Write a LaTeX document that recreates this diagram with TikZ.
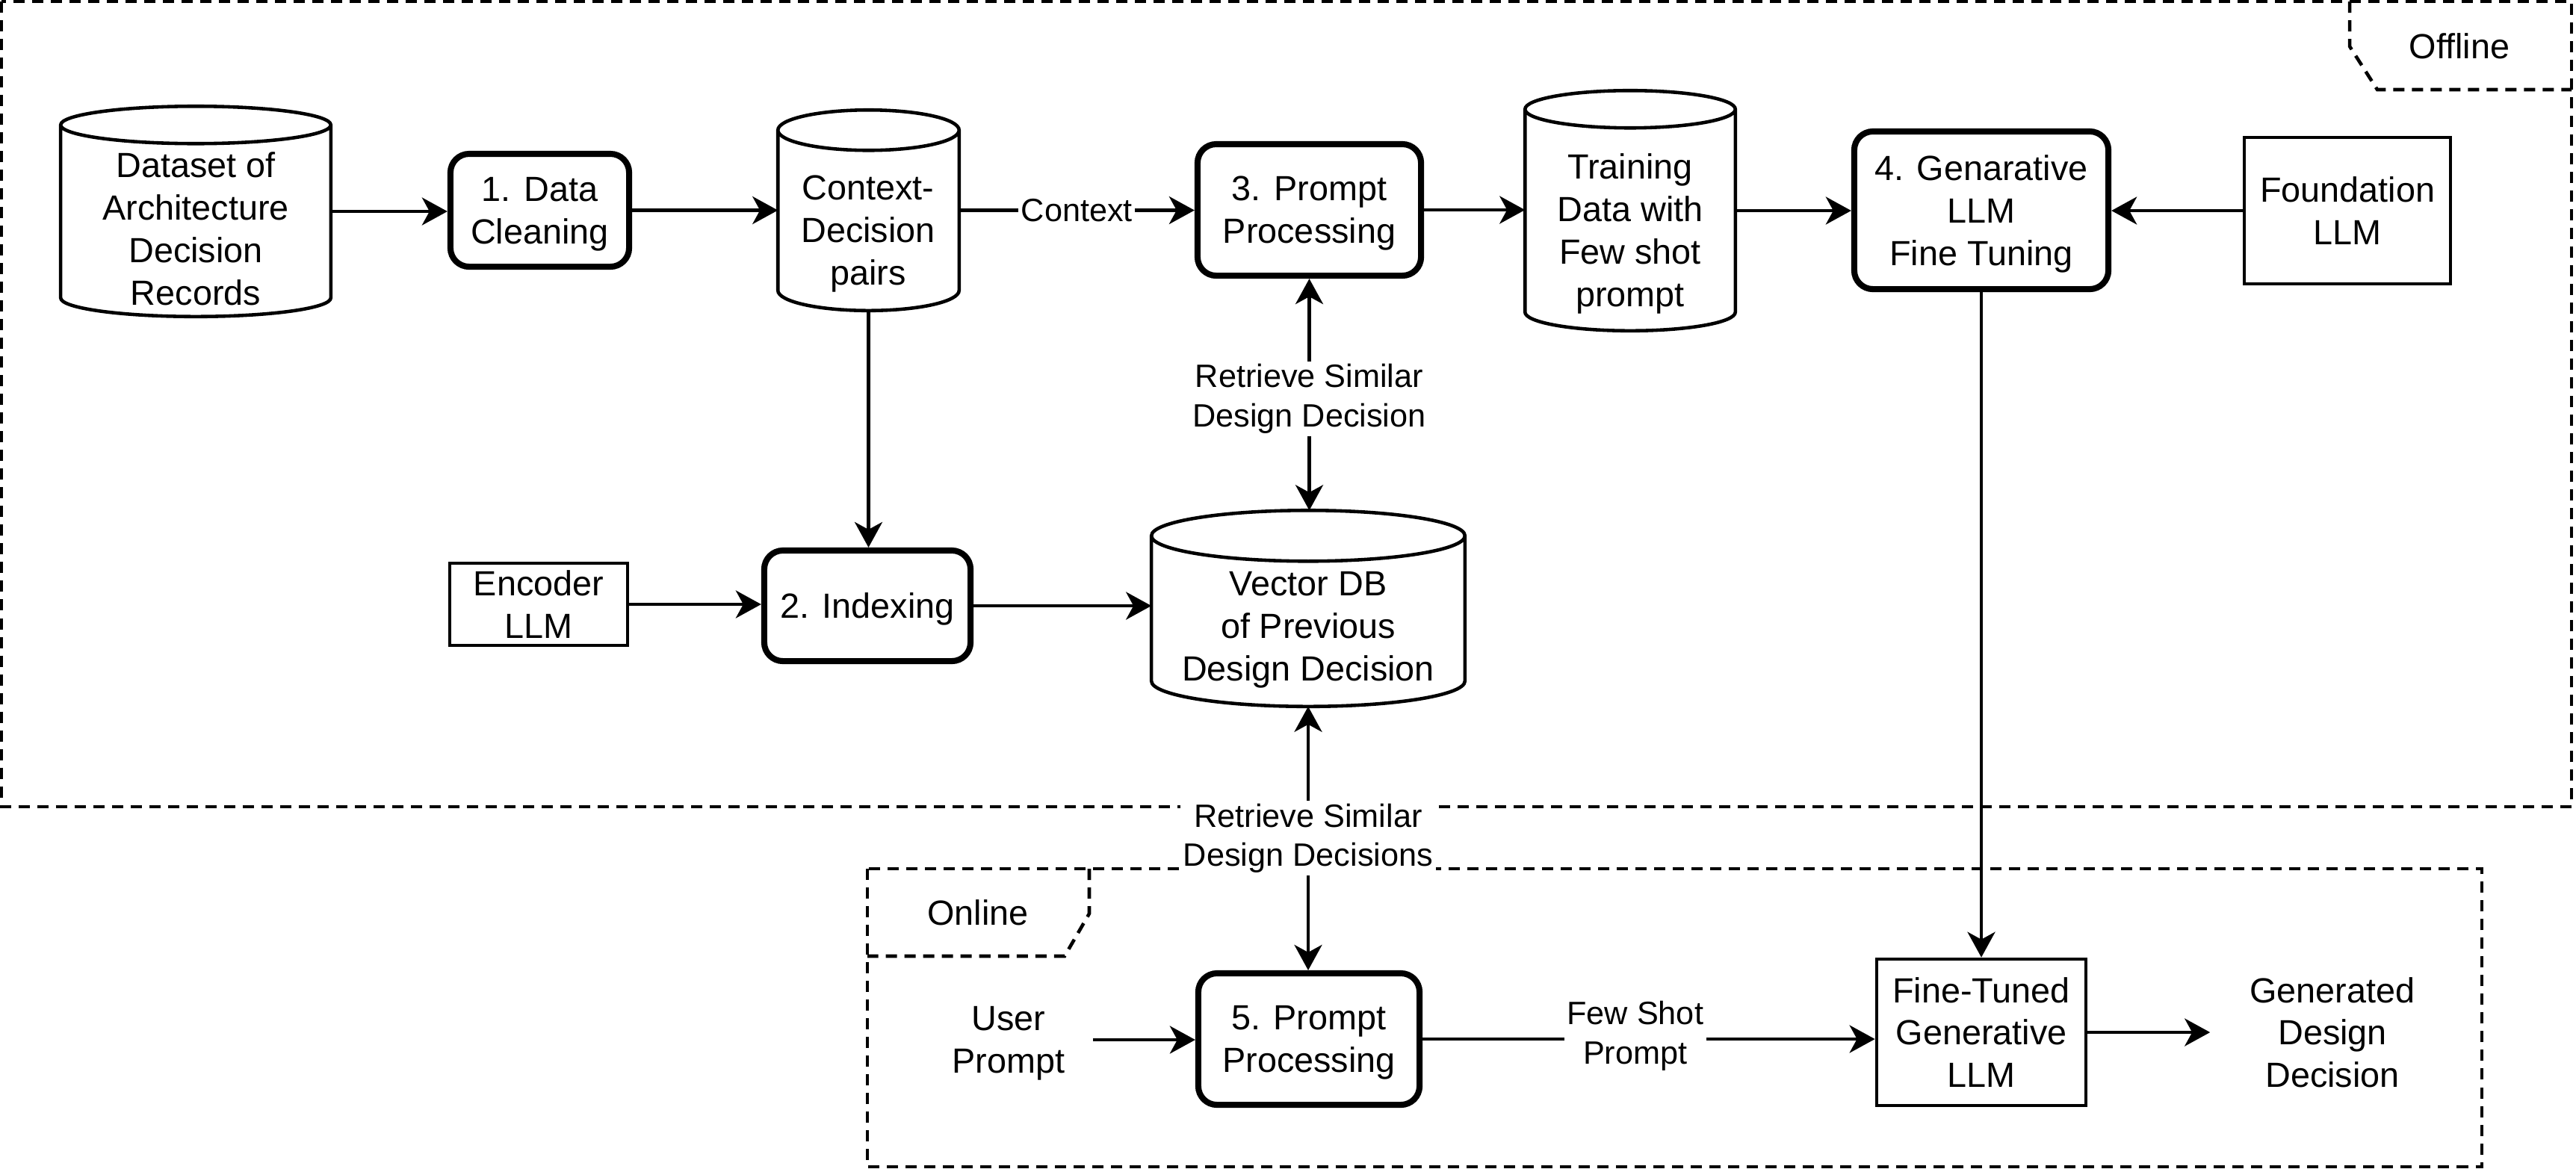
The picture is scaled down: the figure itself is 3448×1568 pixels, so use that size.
\documentclass[tikz,border=0pt]{standalone}
\usepackage{fontspec}
\setmainfont{Liberation Sans}
\usetikzlibrary{arrows.meta,calc}
\newcommand\myNodeFont{\fontsize{13.3pt}{16.2pt}\selectfont}
\newcommand\myLblFont{\fontsize{12.3pt}{15pt}\selectfont}
\tikzset{
  proc/.style={draw, line width=2.3pt, rounded corners=0.25cm, align=center, font=\myNodeFont, inner sep=0pt, fill=white, text depth=0pt},
  plainbox/.style={draw, line width=1.3pt, align=center, font=\myNodeFont, inner sep=0pt, fill=white, text depth=0pt},
  cylbox/.style={inner sep=0pt},
  cylline/.style={line width=1.3pt},
  txt/.style={align=center, font=\myNodeFont, inner sep=0pt, text depth=0pt},
  lbl/.style={fill=white, align=center, font=\myLblFont, inner sep=1pt},
  conn/.style={line width=1.2pt, -{Stealth[length=0.34cm,width=0.37cm,inset=0.1cm]}},
  biconn/.style={line width=1.2pt, {Stealth[length=0.34cm,width=0.37cm,inset=0.1cm]}-{Stealth[length=0.34cm,width=0.37cm,inset=0.1cm]}},
  frame/.style={line width=1.3pt, dash pattern=on 0.15cm off 0.1cm},
}
\newcommand\drawcyl[2]{%
  \draw[cylline] let \p1=(#1.north west), \p2=(#1.south east), \n1={(\x2-\x1)/2} in
    ({(\x1+\x2)/2},{\y1-#2}) ellipse [x radius=\n1, y radius=#2]
    (\x1,{\y1-#2}) -- (\x1,{\y2+#2}) arc [start angle=180, end angle=360, x radius=\n1, y radius=#2] -- (\x2,{\y1-#2});
}
\begin{document}
\begin{tikzpicture}[x=0.01cm,y=-0.01cm]
\useasboundingbox (0,0) rectangle (3448,1568);
\fill[white] (0,0) rectangle (3448,1568);

% frames
\draw[frame] (2,2) rectangle (3442,1080);
\draw[frame] (3145,2) -- (3145,62) -- (3182,120) -- (3442,120);
\node[txt] (offl) at (3292,62) {Offline};
\draw[frame] (1161,1163) rectangle (3322,1562);
\draw[frame] (1458,1163) -- (1458,1223) -- (1425,1280) -- (1161,1280);
\node[txt] (onl) at (1309,1222) {Online};

% cylinders
\node[cylbox, minimum width=3.6cm, minimum height=2.8cm] (ds) at (262,283) {};
\node[cylbox, minimum width=2.41cm, minimum height=2.67cm] (cd) at (1162.5,281.5) {};
\node[cylbox, minimum width=2.8cm, minimum height=3.2cm] (td) at (2182,282) {};
\node[cylbox, minimum width=4.18cm, minimum height=2.61cm] (vdb) at (1751,814.5) {};
\drawcyl{ds}{0.25cm}
\drawcyl{cd}{0.27cm}
\drawcyl{td}{0.25cm}
\drawcyl{vdb}{0.34cm}
\node[txt] (ds-t) at (262,306) {Dataset of\\Architecture\\Decision\\Records};
\node[txt] (cd-t) at (1162,308) {Context-\\Decision\\pairs};
\node[txt] (td-t) at (2182,308) {Training\\Data with\\Few shot\\prompt};
\node[txt] (vdb-t) at (1751,838) {Vector DB\\of Previous\\Design Decision};

% boxes
\node[proc, minimum width=2.39cm, minimum height=1.51cm] (dc) at (722.5,281.5) {1. Data\\Cleaning};
\node[proc, minimum width=2.99cm, minimum height=1.76cm] (pp3) at (1752.5,281) {3. Prompt\\Processing};
\node[proc, minimum width=3.40cm, minimum height=2.11cm] (gen4) at (2652,281.5) {4. Genarative\\LLM\\Fine Tuning};
\node[plainbox, minimum width=2.76cm, minimum height=1.96cm] (found) at (3142,282) {Foundation\\LLM};
\node[plainbox, minimum width=2.38cm, minimum height=1.10cm] (enc) at (721,809) {Encoder\\LLM};
\node[proc, minimum width=2.76cm, minimum height=1.48cm] (idx) at (1161,811) {2. Indexing};
\node[proc, minimum width=2.96cm, minimum height=1.76cm] (pp5) at (1752,1391) {5. Prompt\\Processing};
\node[plainbox, minimum width=2.80cm, minimum height=1.96cm] (ft) at (2652,1382) {Fine-Tuned\\Generative\\LLM};
\node[txt, minimum width=2.24cm] (user) at (1350,1392) {User\\Prompt};
\node[txt, minimum width=3.26cm] (out) at (3122,1382) {Generated\\Design\\Decision};

% connectors
\draw[conn] (ds.east) -- (ds.east -| dc.west);
\draw[conn] (dc.east) -- (dc.east -| cd.west);
\draw[conn] (cd.east) -- node[lbl]{Context} (cd.east -| pp3.west);
\draw[conn] (pp3.east) -- (pp3.east -| td.west);
\draw[conn] (td.east) -- (td.east -| gen4.west);
\draw[conn] (found.west) -- (found.west -| gen4.east);
\draw[conn] (cd.south) -- (cd.south |- idx.north);
\draw[conn] (enc.east) -- (enc.east -| idx.west);
\draw[conn] (idx.east) -- (idx.east -| vdb.west);
\draw[biconn] (pp3.south) -- node[lbl, yshift=-0.06cm]{Retrieve Similar\\Design Decision} (pp3.south |- vdb.north);
\draw[biconn] (vdb.south) -- node[lbl]{Retrieve Similar\\Design Decisions} (vdb.south |- pp5.north);
\draw[conn] (user.east) -- (user.east -| pp5.west);
\draw[conn] (pp5.east) -- node[lbl,pos=0.47,yshift=0.04cm]{Few Shot\\Prompt} (pp5.east -| ft.west);
\draw[conn] (gen4.south) -- (gen4.south |- ft.north);
\draw[conn] (ft.east) -- (ft.east -| out.west);
\end{tikzpicture}
\end{document}
